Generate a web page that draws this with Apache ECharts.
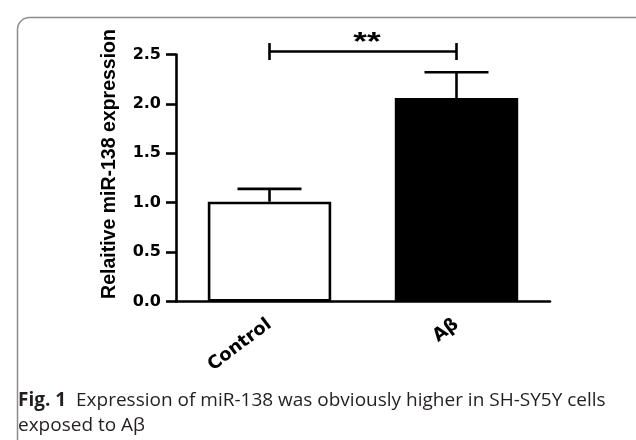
<!DOCTYPE html>
<html><head><meta charset="utf-8">
<script src="https://cdn.jsdelivr.net/npm/echarts@6/dist/echarts.min.js"></script>
<style>html,body{margin:0;padding:0;background:#fff}#c{width:636px;height:440px}</style>
</head><body><div id="c"></div>
<script>
const categories = ['Control', 'Aβ'];
const means = [1.01, 2.06];
const upperErr = [1.14, 2.32];
const barColors = ['#ffffff', '#000000'];
const yTicks = [0, 0.5, 1.0, 1.5, 2.0, 2.5];
const sigBracket = [[0, 1, 2.53, '**']];
const yAxisTitle = 'Relaitive miR-138 expression';
const captionBold = 'Fig. 1';
const captionLine1 = 'Expression of miR-138 was obviously higher in SH-SY5Y cells';
const captionLine2 = 'exposed to Aβ';

const chart = echarts.init(document.getElementById('c'));
const LW = 2.6;
const tickFont = { fontFamily: 'DejaVu Sans', fontWeight: 'bold', color: '#000' };

chart.setOption({
  animation: false,
  backgroundColor: '#fff',
  grid: { left: 176, right: 86, top: 54.5, bottom: 138.5 },
  xAxis: {
    type: 'category', data: categories,
    axisLine: { lineStyle: { color: '#000', width: LW } },
    axisTick: { alignWithLabel: true, length: 10, lineStyle: { color: '#000', width: LW } },
    axisLabel: Object.assign({ rotate: 37, fontSize: 18, margin: 21 }, tickFont),
    splitLine: { show: false }
  },
  yAxis: {
    type: 'value', min: yTicks[0], max: yTicks[yTicks.length - 1], interval: 0.5,
    name: yAxisTitle, nameLocation: 'middle', nameGap: 56, nameRotate: 90,
    nameTextStyle: { fontSize: 19.5, fontFamily: 'Liberation Sans', fontWeight: 'bold', color: '#000', padding: [0, 0, 0, 28] },
    axisLine: { show: true, lineStyle: { color: '#000', width: LW } },
    axisTick: { show: true, length: 10, lineStyle: { color: '#000', width: LW } },
    axisLabel: Object.assign({ fontSize: 16, margin: 15, formatter: v => v.toFixed(1) }, tickFont),
    splitLine: { show: false }
  },
  series: [
    {
      type: 'bar', barWidth: '66%',
      data: means.map((v, i) => ({ value: v, itemStyle: { color: barColors[i] } })),
      itemStyle: { borderColor: '#000', borderWidth: LW },
      z: 2
    },
    {
      type: 'custom', z: 3,
      data: means.map((m, i) => [i, m, upperErr[i]]),
      renderItem: (params, api) => {
        const p0 = api.coord([api.value(0), api.value(1)]);
        const p1 = api.coord([api.value(0), api.value(2)]);
        const hw = 32;
        return { type: 'group', children: [
          { type: 'line', shape: { x1: p0[0], y1: p0[1], x2: p1[0], y2: p1[1] }, style: { stroke: '#000', lineWidth: LW } },
          { type: 'line', shape: { x1: p1[0] - hw, y1: p1[1], x2: p1[0] + hw, y2: p1[1] }, style: { stroke: '#000', lineWidth: LW } }
        ]};
      }
    },
    {
      type: 'custom', z: 4,
      data: sigBracket,
      renderItem: (params, api) => {
        const a = api.coord([api.value(0), api.value(2)]);
        const b = api.coord([api.value(1), api.value(2)]);
        const h = 8.5;
        return { type: 'group', children: [
          { type: 'line', shape: { x1: a[0], y1: a[1], x2: b[0], y2: b[1] }, style: { stroke: '#000', lineWidth: LW } },
          { type: 'line', shape: { x1: a[0], y1: a[1] - h, x2: a[0], y2: a[1] + h }, style: { stroke: '#000', lineWidth: LW } },
          { type: 'line', shape: { x1: b[0], y1: b[1] - h, x2: b[0], y2: b[1] + h }, style: { stroke: '#000', lineWidth: LW } },
          { type: 'text', x: (a[0] + b[0]) / 2 + 4, y: a[1] - 9, scaleX: 1.35,
            style: { text: sigBracket[params.dataIndex][3], x: 0, y: 0,
              align: 'center', verticalAlign: 'middle', fontSize: 26, fontWeight: 'bold', fontFamily: 'Liberation Sans', fill: '#000' } }
        ]};
      }
    }
  ],
  graphic: [
    { type: 'rect', left: 15, top: 15, silent: true, z: -1,
      shape: { x: 0, y: 0, width: 700, height: 500, r: 12 },
      style: { fill: 'none', stroke: '#8c8c8c', lineWidth: 1.5 } },
    { type: 'text', left: 18, top: 391,
      style: { rich: {
          b: { fontFamily: 'Open Sans', fontWeight: 'bold', fontSize: 19, fill: '#231f20', lineHeight: 25 },
          n: { fontFamily: 'Open Sans', fontSize: 19, fill: '#231f20', lineHeight: 25 } },
        text: '{b|' + captionBold + '}{n|  ' + captionLine1 + '}\n{n|' + captionLine2 + '}' } }
  ]
});
</script></body></html>
